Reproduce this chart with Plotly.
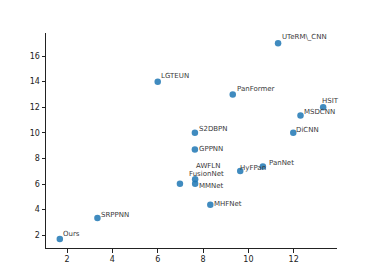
import plotly.graph_objects as go

names = ["Ours", "SRPPNN", "AWFLN", "FusionNet", "MMNet", "LGTEUN", "GPPNN",
         "S2DBPN", "MHFNet", "HyFPan", "PanFormer", "PanNet", "UTeRM\\_CNN",
         "DiCNN", "MSDCNN", "HSIT"]
x_vals = [1.68, 3.34, 6.98, 7.65, 7.65, 6.0, 7.64, 7.64, 8.32, 9.64, 9.31,
          10.64, 11.31, 11.98, 12.3, 13.3]
y_vals = [1.71, 3.35, 6.03, 6.37, 6.03, 14.0, 8.7, 10.0, 4.37, 7.02, 13.0,
          7.36, 17.0, 10.0, 11.35, 12.0]
x_ticks = [2, 4, 6, 8, 10, 12]
y_ticks = [2, 4, 6, 8, 10, 12, 14, 16]

# label pixel offsets (style)
label_dx = [1, 2, 14, -8, 2, 1, 2, 2, 2, -2, 2, 4, 2, 1, 1, -3]
label_dy = [5, 3.3, 18, 5, -2.3, 5.7, 0.6, 3.7, 1.3, 2.7, 5.3, 3.7, 6, 2.4, 3.7, 6.3]

fig = go.Figure()
fig.add_trace(go.Scatter(
    x=x_vals, y=y_vals, mode="markers",
    marker=dict(size=6.5, color="rgba(31,119,180,0.85)", line=dict(width=0)),
    hoverinfo="skip", showlegend=False))

for n, xv, yv, dx, dy in zip(names, x_vals, y_vals, label_dx, label_dy):
    fig.add_annotation(x=xv, y=yv, text=n, showarrow=False,
                       xanchor="left", yanchor="middle",
                       xshift=dx, yshift=dy,
                       font=dict(family="DejaVu Sans", size=7, color="#3a3a3a"))

axis_common = dict(showline=True, linecolor="#222222", linewidth=1,
                   ticks="outside", ticklen=3.5, tickwidth=1, tickcolor="#222222",
                   showgrid=False, zeroline=False, mirror=False,
                   tickfont=dict(family="DejaVu Sans", size=8, color="#222222"))

fig.update_xaxes(range=[1.07, 13.91], tickvals=x_ticks, **axis_common)
fig.update_yaxes(range=[1.0, 17.8], tickvals=y_ticks, **axis_common)

fig.update_layout(width=374, height=280,
                  margin=dict(l=38, r=45, t=25, b=40),
                  plot_bgcolor="white", paper_bgcolor="white",
                  font=dict(family="DejaVu Sans"))

fig.write_html("out.html")
